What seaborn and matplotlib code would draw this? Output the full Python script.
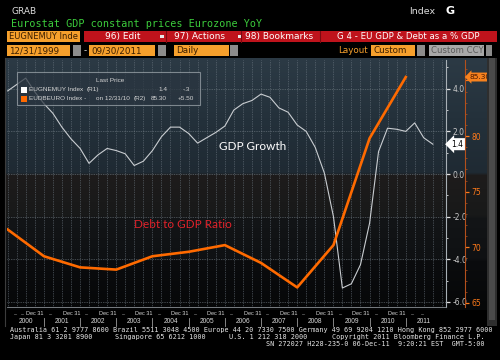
import numpy as np
import pandas as pd
import matplotlib
matplotlib.use("Agg")
import matplotlib.pyplot as plt
import matplotlib.dates as mdates
import matplotlib.transforms as mtransforms
from matplotlib.patches import Rectangle
from matplotlib.ticker import FormatStrFormatter, FixedFormatter
import seaborn as sns

# quarterly GDP growth, YoY % (R1)
gdp_dates = pd.date_range("1999-12-31", "2011-09-30", freq="QE")
gdp_growth = [3.9, 4.2, 4.5, 3.85, 3.3, 2.85, 2.2, 1.65, 1.2, 0.5, 0.9, 1.2,
              1.1, 0.95, 0.4, 0.6, 1.1, 1.75, 2.2, 2.2, 1.9, 1.45, 1.7, 1.95,
              2.25, 3.0, 3.3, 3.45, 3.75, 3.6, 3.1, 2.9, 2.3, 2.0, 1.25, 0.05,
              -2.0, -5.35, -5.15, -4.25, -2.3, 1.05, 2.15, 2.1, 2.0, 2.4, 1.7, 1.4]

# annual debt to GDP ratio, % (R2)
debt_years = list(range(1999, 2011))
debt_ratio = [71.6, 69.2, 68.2, 68.0, 69.2, 69.6, 70.2, 68.6, 66.4, 70.2, 79.8, 85.3]
debt_dates = pd.to_datetime([f"{y}-12-31" for y in debt_years])

years = list(range(2000, 2012))

gdp_df = pd.DataFrame({"date": gdp_dates, "value": gdp_growth})
debt_df = pd.DataFrame({"date": debt_dates, "value": debt_ratio})

ORANGE_BOX = "#f6a02c"
RED_BAR = "#bf131c"
MONO = "DejaVu Sans Mono"
SMALL = "Liberation Sans"

fig = plt.figure(figsize=(5, 3.6), dpi=100, facecolor="black")


def box(px, py, w, h):
    # figure-fraction rectangle from pixel coordinates
    return [px / 500, 1 - (py + h) / 360, w / 500, h / 360]


# chart panel background (blue-grey on top, fading to black)
bg = fig.add_axes(box(5, 58, 482, 252))
bg.set_zorder(-1)
stops_y = [0, 60, 114, 117, 157, 160, 200, 203, 252]
stops_c = ["#2c3a45", "#24313b", "#1f2a33", "#1e1c1c", "#181919",
           "#131517", "#0f1113", "#0b0c0e", "#060708"]
rgb = np.array([matplotlib.colors.to_rgb(c) for c in stops_c])
yy = np.arange(252)
grad = np.stack([np.interp(yy, stops_y, rgb[:, i]) for i in range(3)], axis=-1)
bg.imshow(grad[:, None, :], aspect="auto", extent=[0, 1, 1, 0])
bg.axis("off")

# main axes
ax = fig.add_axes(box(7, 60, 439, 247))
ax.patch.set_visible(False)
sns.lineplot(data=gdp_df, x="date", y="value", ax=ax, color="#c9cdd1", linewidth=0.8)
ax2 = ax.twinx()
sns.lineplot(data=debt_df, x="date", y="value", ax=ax2, color="#ff6a00", linewidth=1.9)

x0 = mdates.date2num(pd.Timestamp("1999-12-24"))
x1 = mdates.date2num(pd.Timestamp("2012-02-10"))
ax.set_xlim(x0, x1)
ax.set_ylim(-6.24, 5.35)
ax2.set_ylim(64.64, 86.83)

for a in (ax, ax2):
    a.set_xlabel("")
    a.set_ylabel("")

# quarterly vertical grid
ax.set_xticks([])
ax.set_xticks(mdates.date2num(pd.date_range("1999-12-31", "2012-01-31", freq="QE")), minor=True)
ax.tick_params(axis="x", which="both", length=0, labelbottom=False)
ax.grid(which="minor", axis="x", color="#6f7a84", linestyle=(0, (1, 1.5)), linewidth=0.5)

# R1 axis
ax.yaxis.tick_right()
ax.set_yticks([-6, -4, -2, 0, 2, 4])
ax.set_yticks(np.arange(-6, 6, 1), minor=True)
ax.yaxis.set_major_formatter(FormatStrFormatter("%.1f"))
ax.tick_params(axis="y", which="major", colors="#e0e0e0", labelcolor="#c8c8c8",
               labelsize=5.5, length=3, width=0.9, pad=1.5)
ax.tick_params(axis="y", which="minor", colors="#e0e0e0", length=1.5, width=0.6)
ax.grid(which="major", axis="y", color="#7a848c", linestyle=(0, (1, 1.5)), linewidth=0.5)
for side in ("top", "left"):
    ax.spines[side].set_visible(False)
ax.spines["right"].set_color("#a8b0b6")
ax.spines["right"].set_linewidth(0.8)
ax.spines["bottom"].set_color("#8a9096")
ax.spines["bottom"].set_linewidth(0.6)

# R2 axis (the 85 label sits under the last-value tag)
ax2.spines["right"].set_position(("outward", 14))
ax2.spines["right"].set_color("#b4501c")
ax2.spines["right"].set_linewidth(0.8)
for side in ("top", "left", "bottom"):
    ax2.spines[side].set_visible(False)
ax2.set_yticks([65, 70, 75, 80, 85])
ax2.set_yticks(np.arange(65, 87, 1), minor=True)
ax2.yaxis.set_major_formatter(FixedFormatter(["65", "70", "75", "80", ""]))
ax2.tick_params(axis="y", which="major", colors="#ff7a1a", labelsize=5.5,
                length=3, width=0.9, pad=1.5)
ax2.tick_params(axis="y", which="minor", colors="#b4501c", length=1.2, width=0.5)
ax2.grid(False)

# last value tags
ax.annotate(f"{gdp_growth[-1]:.1f}", xy=(1.0, gdp_growth[-1]),
            xycoords=ax.get_yaxis_transform(), xytext=(4, 0), textcoords="offset points",
            ha="left", va="center", fontsize=5.5, color="black",
            bbox=dict(boxstyle="larrow,pad=0.2", fc="white", ec="none"),
            annotation_clip=False, zorder=5)
ax2.annotate(f"{debt_ratio[-1]:.2f}", xy=(1.0, debt_ratio[-1]),
             xycoords=ax2.get_yaxis_transform(), xytext=(17, 0), textcoords="offset points",
             ha="left", va="center", fontsize=5.3, color="#4a1800",
             bbox=dict(boxstyle="larrow,pad=0.2", fc="#f7821e", ec="none"),
             annotation_clip=False, zorder=5)

# date rows under the plot
tr = mtransforms.blended_transform_factory(ax.transData, ax.transAxes)
lab = dict(transform=tr, color="#d8d8d8", family=SMALL, va="center", clip_on=False)
day_px = 0.0991  # pixels per day on the x axis
for y in years[:-1]:
    d = mdates.date2num(pd.Timestamp(f"{y}-12-31"))
    ax.text(d, -0.027, "Dec 31", ha="right", fontsize=4, **lab)
    ax.text(d + 7 / day_px, -0.027, "...", ha="center", fontsize=4, **lab)
for d in ("2000-03-20", "2000-06-01", "2011-06-20"):
    ax.text(mdates.date2num(pd.Timestamp(d)), -0.027, "...", ha="center", fontsize=4, **lab)
for y in years:
    ax.text(mdates.date2num(pd.Timestamp(f"{y}-07-01")), -0.06, str(y), ha="center",
            fontsize=4.8, **lab)
    if y < years[-1]:
        d = mdates.date2num(pd.Timestamp(f"{y}-12-31"))
        ax.plot([d, d], [-0.045, -0.075], transform=tr, color="#9a9a9a",
                linewidth=0.6, clip_on=False)

# overlay in pixel coordinates for the terminal chrome
ov = fig.add_axes([0, 0, 1, 1], zorder=10)
ov.set_xlim(0, 500)
ov.set_ylim(360, 0)
ov.axis("off")
ov.patch.set_alpha(0)

ov.text(12, 11, "GRAB", color="#dcdcdc", fontsize=6.5, va="center")
ov.text(409, 11, "Index", color="#dcdcdc", fontsize=6.8, va="center")
ov.text(445, 11, "G", color="white", fontsize=8, fontweight="bold", va="center")
ov.text(11, 24, "Eurostat GDP constant prices Eurozone YoY", color="#3ccc3c",
        fontsize=7.3, family=MONO, va="center")

# command row
ov.add_patch(Rectangle((7, 31), 73, 11, fc=ORANGE_BOX, ec="none"))
ov.text(9, 36.5, "EUGNEMUY Inde", color="#3a1e00", fontsize=6, va="center")
ov.add_patch(Rectangle((84, 31), 413, 11, fc=RED_BAR, ec="none"))
ov.text(105, 36.5, "96) Edit", color="white", fontsize=6.5, va="center")
ov.text(174, 36.5, "97) Actions", color="white", fontsize=6.5, va="center")
ov.text(245, 36.5, "98) Bookmarks", color="white", fontsize=6.5, va="center")
ov.text(408, 36.5, "G 4 - EU GDP & Debt as a % GDP", color="white", fontsize=6.2,
        va="center", ha="center")
for px in (160, 238):
    ov.add_patch(Rectangle((px, 35), 4, 3, fc="#e8e8e8", ec="none"))
for px in (166, 241, 320):
    ov.plot([px, px], [31, 42], color="#7a0a10", linewidth=0.8)

# date range row
ov.add_patch(Rectangle((7, 45), 63, 11, fc=ORANGE_BOX, ec="none"))
ov.text(9, 50.5, "12/31/1999", color="#3a1e00", fontsize=6.3, va="center")
ov.add_patch(Rectangle((73, 45), 8, 11, fc="#8c8c8c", ec="none"))
ov.text(84, 50.5, "-", color="#dcdcdc", fontsize=6.3, va="center")
ov.add_patch(Rectangle((89, 45), 66, 11, fc=ORANGE_BOX, ec="none"))
ov.text(91, 50.5, "09/30/2011", color="#3a1e00", fontsize=6.3, va="center")
ov.add_patch(Rectangle((158, 45), 8, 11, fc="#8c8c8c", ec="none"))
ov.add_patch(Rectangle((174, 45), 55, 11, fc=ORANGE_BOX, ec="none"))
ov.text(176, 50.5, "Daily", color="#3a1e00", fontsize=6.3, va="center")
ov.add_patch(Rectangle((230, 45), 8, 11, fc="#8c8c8c", ec="none"))
ov.text(338, 50.5, "Layout", color=ORANGE_BOX, fontsize=6.3, va="center")
ov.add_patch(Rectangle((371, 45), 44, 11, fc=ORANGE_BOX, ec="none"))
ov.text(373, 50.5, "Custom", color="#3a1e00", fontsize=6.3, va="center")
ov.add_patch(Rectangle((417, 45), 8, 11, fc="#8c8c8c", ec="none"))
ov.add_patch(Rectangle((429, 45), 55, 11, fc="#a8a8a8", ec="none"))
ov.text(431, 50.5, "Custom CCY", color="#5a5a5a", fontsize=6.1, va="center")
ov.add_patch(Rectangle((486, 45), 6, 11, fc="#8c8c8c", ec="none"))

# scroll bar on the right
ov.add_patch(Rectangle((487, 58), 10, 268, fc="#2e2e2e", ec="none"))
ov.add_patch(Rectangle((489, 58), 6, 262, fc="#4a4a4a", ec="none"))
ov.plot([5, 5], [58, 326], color="#3c3c3c", linewidth=0.8)

# legend box
ov.add_patch(Rectangle((17, 72), 183, 33, fc="#2a3540", ec="#a0a8ae", alpha=0.72, linewidth=0.8))
leg = dict(color="#d4d4d4", fontsize=4.6, family=SMALL, va="center")
ov.text(110, 80, "Last Price", ha="center", **leg)
ov.add_patch(Rectangle((21, 86.5), 6, 6, fc="white", ec="none"))
ov.text(29, 89.5, "EUGNEMUY Index", **leg)
ov.text(87, 89.5, "(R1)", **leg)
ov.text(167, 89.5, f"{gdp_growth[-1]:.1f}", ha="right", **leg)
chg = gdp_growth[-1] - gdp_growth[-2]
ov.text(190, 89.5, f"{chg:.1f}".replace("0.", "."), ha="right", **leg)
ov.add_patch(Rectangle((21, 95.5), 6, 6, fc="#ff6a00", ec="none"))
ov.text(29, 98.5, "EUDBEURO Index -", **leg)
ov.text(96, 98.5, f"on {debt_dates[-1]:%m/%d/%y}", **leg)
ov.text(134, 98.5, "(R2)", **leg)
ov.text(167, 98.5, f"{debt_ratio[-1]:.2f}", ha="right", **leg)
ov.text(194, 98.5, f"{debt_ratio[-1] - debt_ratio[-2]:+.2f}", ha="right", **leg)

# series annotations
ov.text(219, 147, "GDP Growth", color="white", fontsize=8.5, family="Lato", va="center")
ov.text(134, 224, "Debt to GDP Ratio", color="#e0222a", fontsize=8.5, family="Lato", va="center")

# footer
foot = dict(color="#e8e8e8", fontsize=4.9, family=MONO, va="center")
ov.text(10, 330, "Australia 61 2 9777 8600 Brazil 5511 3048 4500 Europe 44 20 7330 7500 "
        "Germany 49 69 9204 1210 Hong Kong 852 2977 6000", **foot)
ov.text(10, 337, "Japan 81 3 3201 8900", **foot)
ov.text(115, 337, "Singapore 65 6212 1000", **foot)
ov.text(229, 337, "U.S. 1 212 318 2000", **foot)
ov.text(485, 337, "Copyright 2011 Bloomberg Finance L.P.", ha="right", **foot)
ov.text(485, 344, "SN 272027 H228-235-0 06-Dec-11  9:20:21 EST  GMT-5:00", ha="right", **foot)

fig.savefig("out.png", dpi=100, facecolor="black")
